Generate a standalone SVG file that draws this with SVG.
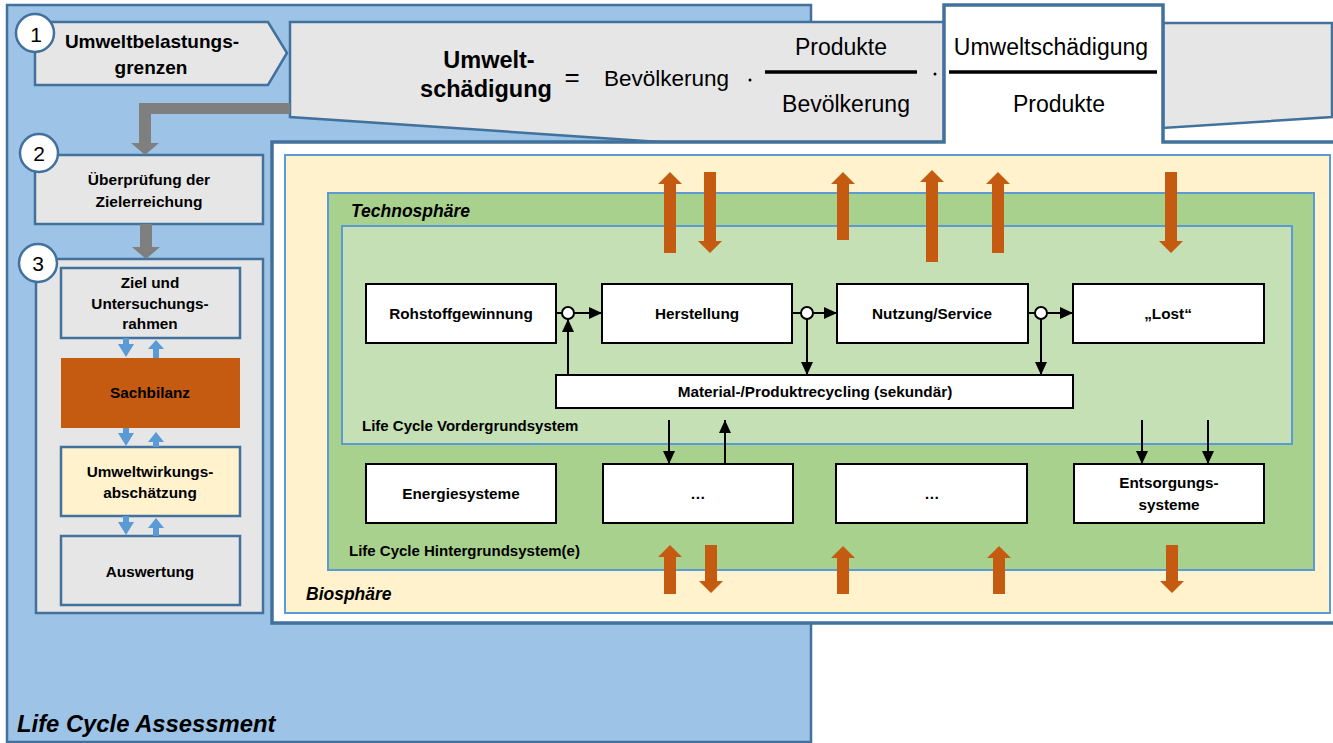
<svg xmlns="http://www.w3.org/2000/svg" width="1333" height="743" viewBox="0 0 1333 743">
  <defs>
    <style>
      .t { font-family: "Liberation Sans", Arial, sans-serif; fill: #000; }
      .b { font-weight: bold; }
      .bi { font-weight: bold; font-style: italic; }
      .mid { text-anchor: middle; }
      .grey { fill: #E6E6E6; stroke: #41719C; stroke-width: 2.5; }
      .zone { stroke: #5B9BD5; stroke-width: 2; }
      .box { fill: #fff; stroke: #000; stroke-width: 2; }
      .wire { fill: none; stroke: #000; stroke-width: 2; }
      .flow { fill: #C55A11; }
      .step { fill: #5B9BD5; }
      .num { fill: #fff; stroke: #41719C; stroke-width: 2.5; }
    </style>
    <marker id="head" viewBox="0 0 13 12" refX="13" refY="6" markerWidth="13" markerHeight="12" markerUnits="userSpaceOnUse" orient="auto">
      <path d="M0,0 L13,6 L0,12 Z" fill="#000"/>
    </marker>
  </defs>

  <!-- LCA frame -->
  <g id="lca-frame">
    <rect x="7" y="5" width="804" height="737" fill="#9DC3E6" stroke="#41719C" stroke-width="2.5"/>
    <text class="t bi" x="17" y="732" font-size="23.8">Life Cycle Assessment</text>
  </g>

  <!-- formula callout (grey) -->
  <g id="formula">
    <path d="M290,22 H944 V142 H660 L290,117 Z" fill="#E6E6E6" stroke="#41719C" stroke-width="2.5"/>
    <path d="M1163,23 H1332 V117 L1163,128 Z" fill="#E6E6E6" stroke="#41719C" stroke-width="2.5"/>
  </g>

  <!-- white system panel with raised formula term -->
  <g id="system-panel">
    <path d="M272,142 H944 V5 H1163 V142 H1345 V623 H272 Z" fill="#fff" stroke="#41719C" stroke-width="3.5"/>
  </g>

  <g id="formula-text">
    <text class="t b mid" x="489" y="68" font-size="23.5">Umwelt-</text>
    <text class="t b mid" x="486" y="97" font-size="23.5">schädigung</text>
    <text class="t mid" x="572" y="86" font-size="26">=</text>
    <text class="t" x="604" y="86" font-size="22.5">Bevölkerung</text>
    <circle cx="750" cy="80" r="1.5" fill="#000"/>
    <text class="t mid" x="841" y="55" font-size="23">Produkte</text>
    <line x1="765" y1="72" x2="917" y2="72" stroke="#000" stroke-width="3.5"/>
    <text class="t mid" x="846" y="112" font-size="23">Bevölkerung</text>
    <circle cx="935" cy="74" r="1.5" fill="#000"/>
    <text class="t mid" x="1051" y="55" font-size="23">Umweltschädigung</text>
    <line x1="949" y1="72" x2="1157" y2="72" stroke="#000" stroke-width="3.5"/>
    <text class="t mid" x="1059" y="112" font-size="23">Produkte</text>
  </g>

  <!-- nested spheres -->
  <g id="biosphaere">
    <rect x="285" y="155" width="1045" height="458" fill="#FFF2CC" class="zone"/>
    <text class="t bi" x="306" y="600" font-size="17.5">Biosphäre</text>
  </g>
  <g id="technosphaere">
    <rect x="328" y="193" width="986" height="377" fill="#A9D18E" class="zone"/>
    <text class="t bi" x="351" y="217" font-size="17.5">Technosphäre</text>
    <text class="t b" x="349" y="556" font-size="15">Life Cycle Hintergrundsystem(e)</text>
  </g>
  <g id="vordergrundsystem">
    <rect x="342" y="226" width="950" height="218" fill="#C5E0B4" class="zone"/>
    <text class="t b" x="362" y="431" font-size="15">Life Cycle Vordergrundsystem</text>
  </g>

  <!-- process boxes -->
  <g id="rohstoff">
    <rect class="box" x="366" y="284" width="190" height="59"/>
    <text class="t b mid" x="461" y="319" font-size="15.3">Rohstoffgewinnung</text>
  </g>
  <g id="herstellung">
    <rect class="box" x="602" y="284" width="190" height="59"/>
    <text class="t b mid" x="697" y="319" font-size="15.3">Herstellung</text>
  </g>
  <g id="nutzung">
    <rect class="box" x="837" y="284" width="191" height="59"/>
    <text class="t b mid" x="932" y="319" font-size="15.3">Nutzung/Service</text>
  </g>
  <g id="lost">
    <rect class="box" x="1073" y="284" width="191" height="59"/>
    <text class="t b mid" x="1168" y="319" font-size="15.3">„Lost“</text>
  </g>
  <g id="recycling">
    <rect class="box" x="556" y="375" width="517" height="33"/>
    <text class="t b mid" x="815" y="397" font-size="15.3">Material-/Produktrecycling (sekundär)</text>
  </g>
  <g id="energiesysteme">
    <rect class="box" x="366" y="464" width="190" height="59"/>
    <text class="t b mid" x="461" y="499" font-size="15.3">Energiesysteme</text>
  </g>
  <g id="weitere-1">
    <rect class="box" x="603" y="464" width="190" height="59"/>
    <text class="t b mid" x="698" y="499" font-size="15.3">…</text>
  </g>
  <g id="weitere-2">
    <rect class="box" x="836" y="464" width="191" height="59"/>
    <text class="t b mid" x="932" y="499" font-size="15.3">…</text>
  </g>
  <g id="entsorgung">
    <rect class="box" x="1074" y="464" width="190" height="59"/>
    <text class="t b mid" x="1169" y="488" font-size="15.3">Entsorgungs-</text>
    <text class="t b mid" x="1169" y="510" font-size="15.3">systeme</text>
  </g>

  <!-- left-hand procedure -->
  <g id="step1">
    <path class="grey" d="M35,22 H268 L287,53 L268,85 H35 Z"/>
    <text class="t b mid" x="152" y="48" font-size="19">Umweltbelastungs-</text>
    <text class="t b mid" x="151" y="74" font-size="19">grenzen</text>
    <circle class="num" cx="35" cy="33" r="19"/>
    <text class="t mid" x="36" y="42" font-size="21">1</text>
  </g>
  <g id="step2">
    <rect class="grey" x="35" y="155" width="228" height="69"/>
    <text class="t b mid" x="149" y="185" font-size="15.5">Überprüfung der</text>
    <text class="t b mid" x="149" y="207" font-size="15.5">Zielerreichung</text>
    <circle class="num" cx="39" cy="153" r="19"/>
    <text class="t mid" x="39" y="161" font-size="21">2</text>
  </g>
  <g id="step3">
    <rect class="grey" x="36" y="259" width="227" height="354"/>
    <circle class="num" cx="38" cy="263" r="19"/>
    <text class="t mid" x="38" y="271" font-size="21">3</text>
  </g>
  <g id="ziel">
    <rect class="grey" x="61" y="268" width="179" height="70"/>
    <text class="t b mid" x="150" y="288" font-size="15.3">Ziel und</text>
    <text class="t b mid" x="150" y="309" font-size="15.3">Untersuchungs-</text>
    <text class="t b mid" x="150" y="329" font-size="15.3">rahmen</text>
  </g>
  <g id="sachbilanz">
    <rect x="61" y="358" width="179" height="70" fill="#C55A11"/>
    <text class="t b mid" x="150" y="398" font-size="15.3">Sachbilanz</text>
  </g>
  <g id="wirkungsabschaetzung">
    <rect x="61" y="447" width="179" height="69" fill="#FFF2CC" stroke="#41719C" stroke-width="2.5"/>
    <text class="t b mid" x="150" y="477" font-size="15.3">Umweltwirkungs-</text>
    <text class="t b mid" x="150" y="498" font-size="15.3">abschätzung</text>
  </g>
  <g id="auswertung">
    <rect class="grey" x="61" y="536" width="179" height="69"/>
    <text class="t b mid" x="150" y="577" font-size="15.3">Auswertung</text>
  </g>

  <!-- connectors -->
  <g id="connectors">
    <!-- grey flow from formula to steps 2 and 3 -->
    <path d="M290,103 H139 V143 H131 L145,155 L159,143 H151 V114 H290 Z" fill="#7F7F7F"/>
    <path d="M140,224 V247 H132 L146,259 L160,247 H152 V224 Z" fill="#7F7F7F"/>

    <!-- blue iteration arrows between LCA phases -->
    <path class="step" d="M123,338 H129 V344 H134 L126,357 L118,344 H123 Z"/>
    <path class="step" d="M153,358 V349 H148 L156,340 L164,349 H159 V358 Z"/>
    <path class="step" d="M123,428 H129 V433 H134 L126,446 L118,433 H123 Z"/>
    <path class="step" d="M153,447 V442 H148 L156,432 L164,442 H159 V447 Z"/>
    <path class="step" d="M123,516 H129 V522 H134 L126,535 L118,522 H123 Z"/>
    <path class="step" d="M153,536 V528 H148 L156,518 L164,528 H159 V536 Z"/>

    <!-- life cycle chain -->
    <line class="wire" x1="556" y1="313" x2="562" y2="313"/>
    <line class="wire" x1="574" y1="313" x2="602" y2="313" marker-end="url(#head)"/>
    <line class="wire" x1="792" y1="313" x2="801" y2="313"/>
    <line class="wire" x1="813" y1="313" x2="837" y2="313" marker-end="url(#head)"/>
    <line class="wire" x1="1028" y1="313" x2="1035" y2="313"/>
    <line class="wire" x1="1047" y1="313" x2="1073" y2="313" marker-end="url(#head)"/>
    <line class="wire" x1="568" y1="375" x2="568" y2="319" marker-end="url(#head)"/>
    <line class="wire" x1="807" y1="319" x2="807" y2="375" marker-end="url(#head)"/>
    <line class="wire" x1="1041" y1="319" x2="1041" y2="375" marker-end="url(#head)"/>
    <circle cx="568" cy="313" r="6" fill="#fff" stroke="#000" stroke-width="2"/>
    <circle cx="807" cy="313" r="6" fill="#fff" stroke="#000" stroke-width="2"/>
    <circle cx="1041" cy="313" r="6" fill="#fff" stroke="#000" stroke-width="2"/>

    <!-- links to background systems -->
    <line class="wire" x1="669" y1="420" x2="669" y2="464" marker-end="url(#head)"/>
    <line class="wire" x1="725" y1="464" x2="725" y2="420" marker-end="url(#head)"/>
    <line class="wire" x1="1142" y1="420" x2="1142" y2="464" marker-end="url(#head)"/>
    <line class="wire" x1="1208" y1="420" x2="1208" y2="464" marker-end="url(#head)"/>

    <!-- exchanges with the biosphere (top) -->
    <path class="flow" d="M664,253 V184 H658 L670,172 L682,184 H676 V253 Z"/>
    <path class="flow" d="M704,172 V241 H698 L710,253 L722,241 H716 V172 Z"/>
    <path class="flow" d="M837,240 V184 H831 L843,172 L855,184 H849 V240 Z"/>
    <path class="flow" d="M926,262 V182 H920 L932,170 L944,182 H938 V262 Z"/>
    <path class="flow" d="M992,253 V184 H986 L998,172 L1010,184 H1004 V253 Z"/>
    <path class="flow" d="M1165,172 V241 H1159 L1171,253 L1183,241 H1177 V172 Z"/>

    <!-- exchanges with the biosphere (bottom) -->
    <path class="flow" d="M664,594 V557 H658 L670,545 L682,557 H676 V594 Z"/>
    <path class="flow" d="M705,545 V581 H699 L711,593 L723,581 H717 V545 Z"/>
    <path class="flow" d="M837,594 V558 H831 L843,546 L855,558 H849 V594 Z"/>
    <path class="flow" d="M993,594 V558 H987 L999,546 L1011,558 H1005 V594 Z"/>
    <path class="flow" d="M1166,545 V581 H1160 L1172,593 L1184,581 H1178 V545 Z"/>
  </g>
</svg>
